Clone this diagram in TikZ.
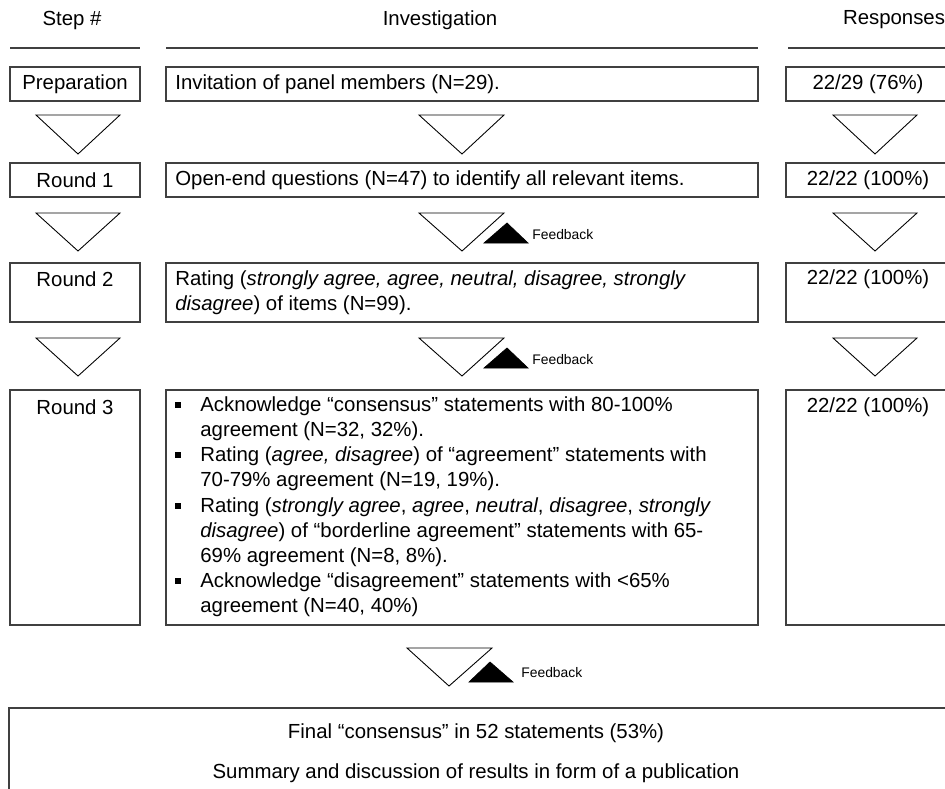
\documentclass[tikz,border=0pt]{standalone}
\usepackage{fontspec}
\setmainfont{Liberation Sans}
\begin{document}
\begin{tikzpicture}[x=0.02cm,y=-0.02cm]
\tikzstyle{every node}+=[inner sep=0pt]
\tikzstyle{box}=[draw=black!75,line width=0.7pt]
\tikzstyle{tri}=[draw=black,line width=0.5pt]
\tikzstyle{fb}=[fill=black]
\tikzstyle{txt}=[font=\fontsize{11.6}{14.2}\selectfont]
\tikzstyle{ltxt}=[txt,align=left]
\tikzstyle{small}=[font=\fontsize{7.9}{9}\selectfont]
\useasboundingbox (0,0) rectangle (945,788);
\clip (0,0) rectangle (945,788);
% headers
\node[txt] (hstep) at (72,20) {Step \#};
\node[txt] (hinv) at (440,20) {Investigation};
\node[txt] (hresp) at (894,20) {Responses};
\draw [black!75,line width=0.8pt] (10,48) -- (140,48);
\draw [black!75,line width=0.8pt] (166,48) -- (758,48);
\draw [black!75,line width=0.8pt] (788,48) -- (960,48);
% preparation
\draw [box] (10,67) rectangle (140,101);
\draw [box] (166,67) rectangle (758,101);
\draw [box] (786,67) rectangle (960,101);
\node[txt] (prep) at (75,84) {Preparation};
\node[txt,anchor=west] (invite) at (175,84) {Invitation of panel members (N=29).};
\node[txt] (resp0) at (868,84) {22/29 (76\%)};
\draw [tri] (36,115) -- (120,115) -- (78,154) -- cycle;
\draw [tri] (419,115) -- (504,115) -- (462,154) -- cycle;
\draw [tri] (833,115) -- (917,115) -- (875,154) -- cycle;
% round 1
\draw [box] (10,163) rectangle (140,197);
\draw [box] (166,163) rectangle (758,197);
\draw [box] (786,163) rectangle (960,197);
\node[txt] (r1) at (75,180) {Round 1};
\node[txt,anchor=west] (open) at (175,180) {Open-end questions (N=47) to identify all relevant items.};
\node[txt] (resp1) at (868,180) {22/22 (100\%)};
\draw [tri] (36,213) -- (120,213) -- (78,251) -- cycle;
\draw [tri] (419,213) -- (504,213) -- (462,251) -- cycle;
\draw [fb] (484,243) -- (528,243) -- (507,223) -- cycle;
\node[small,anchor=west] (fb1) at (532,235) {Feedback};
\draw [tri] (833,213) -- (917,213) -- (875,251) -- cycle;
% round 2
\draw [box] (10,263) rectangle (140,322);
\draw [box] (166,263) rectangle (758,322);
\draw [box] (786,263) rectangle (960,322);
\node[txt] (r2) at (75,279) {Round 2};
\node[ltxt,anchor=north west] (rate) at (175,270) {Rating (\textit{strongly agree, agree, neutral, disagree, strongly}\\\textit{disagree}) of items (N=99).};
\node[txt] (resp2) at (868,279) {22/22 (100\%)};
\draw [tri] (36,338) -- (120,338) -- (78,376) -- cycle;
\draw [tri] (419,338) -- (504,338) -- (462,376) -- cycle;
\draw [fb] (484,368) -- (528,368) -- (507,348) -- cycle;
\node[small,anchor=west] (fb2) at (532,360) {Feedback};
\draw [tri] (833,338) -- (917,338) -- (875,376) -- cycle;
% round 3
\draw [box] (10,390) rectangle (140,625);
\draw [box] (166,390) rectangle (758,625);
\draw [box] (786,390) rectangle (960,625);
\node[txt] (r3) at (75,407) {Round 3};
\node[txt] (resp3) at (868,407) {22/22 (100\%)};
\foreach \y/\nm in {405/a,455/b,506/c,581/d}
  \fill (175,\y-3) rectangle (181,\y+3);
\node[ltxt,anchor=north west] (itema) at (200,396) {Acknowledge “consensus” statements with 80-100\%\\agreement (N=32, 32\%).};
\node[ltxt,anchor=north west] (itemb) at (200,446) {Rating (\textit{agree, disagree}) of “agreement” statements with\\70-79\% agreement (N=19, 19\%).};
\node[ltxt,anchor=north west] (itemc) at (200,497) {Rating (\textit{strongly agree}, \textit{agree}, \textit{neutral}, \textit{disagree}, \textit{strongly}\\\textit{disagree}) of “borderline agreement” statements with 65-\\69\% agreement (N=8, 8\%).};
\node[ltxt,anchor=north west] (itemd) at (200,572) {Acknowledge “disagreement” statements with <65\%\\agreement (N=40, 40\%)};
% final
\draw [tri] (407,648) -- (492,648) -- (449,686) -- cycle;
\draw [fb] (469,682) -- (513,682) -- (490,662) -- cycle;
\node[small,anchor=west] (fb3) at (521,673) {Feedback};
\draw [box] (9,708) rectangle (960,820);
\node[txt] (final) at (476,733) {Final “consensus” in 52 statements (53\%)};
\node[txt] (summ) at (476,773) {Summary and discussion of results in form of a publication};
\end{tikzpicture}
\end{document}
